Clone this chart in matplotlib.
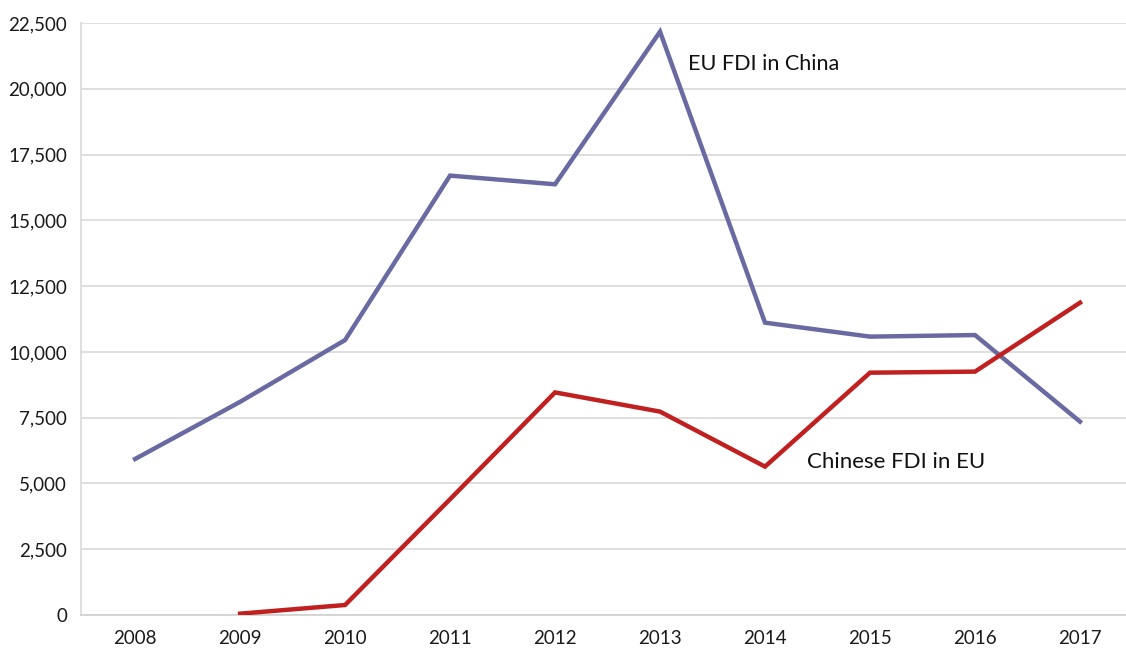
import matplotlib
matplotlib.use("Agg")
import matplotlib.pyplot as plt
from matplotlib.ticker import FuncFormatter

years = ["2008", "2009", "2010", "2011", "2012", "2013", "2014", "2015", "2016", "2017"]
eu_fdi_china = [5930, 8100, 10450, 16700, 16370, 22170, 11110, 10580, 10640, 7350]
china_years = ["2009", "2010", "2011", "2012", "2013", "2014", "2015", "2016", "2017"]
china_fdi_eu = [50, 380, 4400, 8460, 7730, 5640, 9210, 9250, 11870]
yticks = [0, 2500, 5000, 7500, 10000, 12500, 15000, 17500, 20000, 22500]

plt.rcParams['font.family'] = ['Lato', 'DejaVu Sans']

fig = plt.figure(figsize=(11.26, 6.53), dpi=100)
ax = fig.add_axes([81/1126, 38/653, (1132.5-81)/1126, 592/653])

xi = list(range(len(years)))
xc = [years.index(y) for y in china_years]
ax.plot(xi, eu_fdi_china, color="#6A6AA3", lw=3.2, solid_joinstyle="miter", zorder=3)
ax.plot(xc, china_fdi_eu, color="#C0201F", lw=3.2, solid_joinstyle="miter", zorder=3)

ax.set_xlim(-0.515, 9.5)
ax.set_ylim(0, 22500)
ax.set_yticks(yticks)
ax.yaxis.set_major_formatter(FuncFormatter(lambda v, p: f"{int(v):,}"))
ax.set_xticks(xi)
ax.set_xticklabels(years)
ax.grid(axis="y", color="#D9D9D9", lw=1.2)
ax.set_axisbelow(True)
for s in ["top", "right"]:
    ax.spines[s].set_visible(False)
ax.spines["left"].set_color("#D9D9D9")
ax.spines["bottom"].set_color("#D0D0D0")
ax.spines["left"].set_linewidth(1.2)
ax.spines["bottom"].set_linewidth(1.2)
ax.tick_params(axis="both", length=0, labelsize=13.5, colors="#1a1a1a")
ax.tick_params(axis="y", pad=10)
ax.tick_params(axis="x", pad=11)

ax.text(5.27, 20950, "EU FDI in China", fontsize=15.6, color="#111111", va="center", ha="left")
ax.text(6.4, 5800, "Chinese FDI in EU", fontsize=16, color="#111111", va="center", ha="left")

fig.savefig("out.png", dpi=100)
